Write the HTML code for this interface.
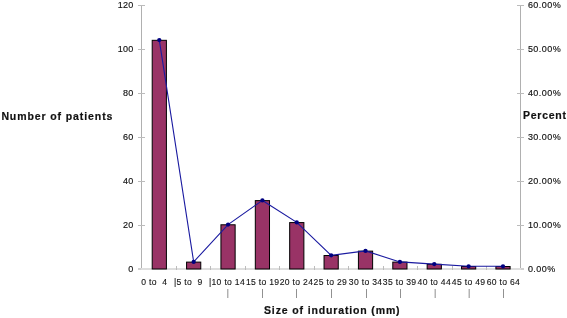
<!DOCTYPE html>
<html><head><meta charset="utf-8"><style>
html,body{margin:0;padding:0;background:#fff;}
body{width:567px;height:318px;overflow:hidden;}
svg{display:block;}
text{font-family:"Liberation Sans",sans-serif;fill:#111;}
.g{filter:grayscale(1);}
.t{font-size:9px;letter-spacing:0.2px;stroke:#111;stroke-width:0.15px;}
.r{letter-spacing:0.45px;}
.c{font-size:8.6px;letter-spacing:0.3px;stroke:#222;stroke-width:0.12px;}
.p{font-size:8.6px;fill:#666;}
.b{font-size:10.5px;font-weight:bold;stroke:#111;stroke-width:0.2px;}
</style></head><body>
<svg width="567" height="318" viewBox="0 0 567 318">
<rect width="567" height="318" fill="#fff"/>
<rect x="141" y="5" width="1" height="265" fill="#b0b0b0"/>
<rect x="520" y="5" width="1" height="265" fill="#b0b0b0"/>
<rect x="141" y="268" width="380" height="2" fill="#dedede"/>
<rect x="138" y="268" width="3" height="2" fill="#d0d0d0"/>
<rect x="521" y="268" width="3" height="2" fill="#d0d0d0"/>
<rect x="138" y="225" width="7" height="1" fill="#bcbcbc"/>
<rect x="517" y="225" width="7" height="1" fill="#bcbcbc"/>
<rect x="138" y="181" width="7" height="1" fill="#bcbcbc"/>
<rect x="517" y="181" width="7" height="1" fill="#bcbcbc"/>
<rect x="138" y="137" width="7" height="1" fill="#bcbcbc"/>
<rect x="517" y="137" width="7" height="1" fill="#bcbcbc"/>
<rect x="138" y="93" width="7" height="1" fill="#bcbcbc"/>
<rect x="517" y="93" width="7" height="1" fill="#bcbcbc"/>
<rect x="138" y="49" width="7" height="1" fill="#bcbcbc"/>
<rect x="517" y="49" width="7" height="1" fill="#bcbcbc"/>
<rect x="138" y="5" width="7" height="1" fill="#bcbcbc"/>
<rect x="517" y="5" width="7" height="1" fill="#bcbcbc"/>
<rect x="176" y="266" width="1" height="4" fill="#bcbcbc"/>
<rect x="210" y="266" width="1" height="4" fill="#bcbcbc"/>
<rect x="245" y="266" width="1" height="4" fill="#bcbcbc"/>
<rect x="279" y="266" width="1" height="4" fill="#bcbcbc"/>
<rect x="314" y="266" width="1" height="4" fill="#bcbcbc"/>
<rect x="348" y="266" width="1" height="4" fill="#bcbcbc"/>
<rect x="383" y="266" width="1" height="4" fill="#bcbcbc"/>
<rect x="417" y="266" width="1" height="4" fill="#bcbcbc"/>
<rect x="452" y="266" width="1" height="4" fill="#bcbcbc"/>
<rect x="486" y="266" width="1" height="4" fill="#bcbcbc"/>
<rect x="152.20" y="40.32" width="14.20" height="228.68" fill="#993366" stroke="#000" stroke-width="1"/>
<rect x="186.57" y="262.11" width="14.20" height="6.89" fill="#993366" stroke="#000" stroke-width="1"/>
<rect x="220.94" y="224.78" width="14.20" height="44.22" fill="#993366" stroke="#000" stroke-width="1"/>
<rect x="255.31" y="200.62" width="14.20" height="68.38" fill="#993366" stroke="#000" stroke-width="1"/>
<rect x="289.68" y="222.58" width="14.20" height="46.42" fill="#993366" stroke="#000" stroke-width="1"/>
<rect x="324.05" y="255.52" width="14.20" height="13.48" fill="#993366" stroke="#000" stroke-width="1"/>
<rect x="358.42" y="251.13" width="14.20" height="17.87" fill="#993366" stroke="#000" stroke-width="1"/>
<rect x="392.79" y="262.11" width="14.20" height="6.89" fill="#993366" stroke="#000" stroke-width="1"/>
<rect x="427.16" y="264.31" width="14.20" height="4.69" fill="#993366" stroke="#000" stroke-width="1"/>
<rect x="461.53" y="266.50" width="14.20" height="2.50" fill="#993366" stroke="#000" stroke-width="1"/>
<rect x="495.90" y="266.50" width="14.20" height="2.50" fill="#993366" stroke="#000" stroke-width="1"/>
<polyline fill="none" stroke="#1a1aa0" stroke-width="1.1" points="159.30,40.12 193.67,261.91 228.04,224.58 262.41,200.42 296.78,222.38 331.15,255.32 365.52,250.93 399.89,261.91 434.26,264.11 468.63,266.30 503.00,266.30"/>
<circle cx="159.30" cy="40.12" r="2.15" fill="#000080"/>
<circle cx="193.67" cy="261.91" r="2.15" fill="#000080"/>
<circle cx="228.04" cy="224.58" r="2.15" fill="#000080"/>
<circle cx="262.41" cy="200.42" r="2.15" fill="#000080"/>
<circle cx="296.78" cy="222.38" r="2.15" fill="#000080"/>
<circle cx="331.15" cy="255.32" r="2.15" fill="#000080"/>
<circle cx="365.52" cy="250.93" r="2.15" fill="#000080"/>
<circle cx="399.89" cy="261.91" r="2.15" fill="#000080"/>
<circle cx="434.26" cy="264.11" r="2.15" fill="#000080"/>
<circle cx="468.63" cy="266.30" r="2.15" fill="#000080"/>
<circle cx="503.00" cy="266.30" r="2.15" fill="#000080"/>
<g class="g">
<text x="133.4" y="271.90" text-anchor="end" class="t">0</text>
<text x="527.9" y="271.90" class="t r">0.00%</text>
<text x="133.4" y="228.20" text-anchor="end" class="t">20</text>
<text x="527.9" y="228.20" class="t r">10.00%</text>
<text x="133.4" y="184.20" text-anchor="end" class="t">40</text>
<text x="527.9" y="184.20" class="t r">20.00%</text>
<text x="133.4" y="140.20" text-anchor="end" class="t">60</text>
<text x="527.9" y="140.20" class="t r">30.00%</text>
<text x="133.4" y="96.20" text-anchor="end" class="t">80</text>
<text x="527.9" y="96.20" class="t r">40.00%</text>
<text x="133.4" y="52.20" text-anchor="end" class="t">100</text>
<text x="527.9" y="52.20" class="t r">50.00%</text>
<text x="133.4" y="8.20" text-anchor="end" class="t">120</text>
<text x="527.9" y="8.20" class="t r">60.00%</text>
<text x="154.30" y="284.6" text-anchor="middle" class="c" xml:space="preserve">0 to  4</text>
<text x="188.30" y="284.6" text-anchor="middle" class="c" xml:space="preserve">|5 to  9</text>
<text x="227.00" y="284.6" text-anchor="middle" class="c" xml:space="preserve">|10 to 14</text>
<text x="262.70" y="284.6" text-anchor="middle" class="c" xml:space="preserve">15 to 19</text>
<text x="296.50" y="284.6" text-anchor="middle" class="c" xml:space="preserve">20 to 24</text>
<text x="330.35" y="284.6" text-anchor="middle" class="c" xml:space="preserve">25 to 29</text>
<text x="365.60" y="284.6" text-anchor="middle" class="c" xml:space="preserve">30 to 34</text>
<text x="399.60" y="284.6" text-anchor="middle" class="c" xml:space="preserve">35 to 39</text>
<text x="434.30" y="284.6" text-anchor="middle" class="c" xml:space="preserve">40 to 44</text>
<text x="468.60" y="284.6" text-anchor="middle" class="c" xml:space="preserve">45 to 49</text>
<text x="503.40" y="284.6" text-anchor="middle" class="c" xml:space="preserve">60 to 64</text>
<text x="227.80" y="296" text-anchor="middle" class="p">|</text>
<text x="262.50" y="296" text-anchor="middle" class="p">|</text>
<text x="296.60" y="296" text-anchor="middle" class="p">|</text>
<text x="331.30" y="296" text-anchor="middle" class="p">|</text>
<text x="366.30" y="296" text-anchor="middle" class="p">|</text>
<text x="400.50" y="296" text-anchor="middle" class="p">|</text>
<text x="435.00" y="296" text-anchor="middle" class="p">|</text>
<text x="469.00" y="296" text-anchor="middle" class="p">|</text>
<text x="503.60" y="296" text-anchor="middle" class="p">|</text>
<text x="1.4" y="120.2" class="b" style="letter-spacing:0.9px">Number of patients</text>
<text x="523" y="118.8" class="b" style="letter-spacing:0.75px">Percent</text>
<text x="264" y="313.9" class="b" style="letter-spacing:0.86px">Size of induration (mm)</text>
</g>
</svg>
</body></html>
